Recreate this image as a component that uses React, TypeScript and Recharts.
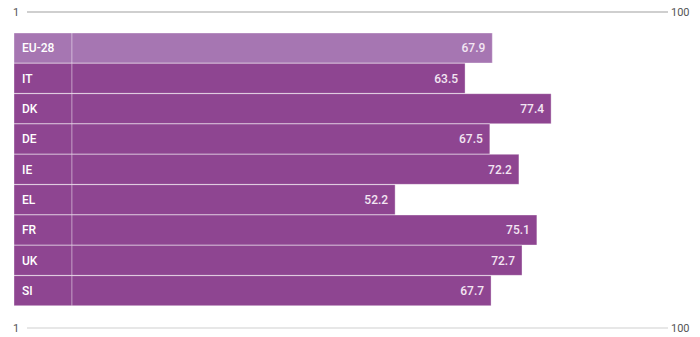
import React from "react";
import { BarChart, Bar, XAxis, YAxis, Cell, LabelList } from "recharts";

const categories = ["EU-28", "IT", "DK", "DE", "IE", "EL", "FR", "UK", "SI"];
const values = [67.9, 63.5, 77.4, 67.5, 72.2, 52.2, 75.1, 72.7, 67.7];
const highlighted = ["EU-28"];
const scaleTicks = ["1", "100"];

const LABEL_COL = 9.37; // width of the label column in value units

const data = categories.map((c, i) => ({
  code: c,
  labelCol: LABEL_COL,
  value: values[i],
}));

const BASE = "#8e4591";
const LIGHT = "#a676b2";
const STROKE = "rgba(255,255,255,0.35)";
const FONT = "Roboto, 'Noto Sans', sans-serif";

const ScaleRow = ({ y, thick }: { y: number; thick: boolean }) => (
  <g>
    <text x={13} y={y + 4} fontSize={11} fill="#555" fontFamily={FONT}>
      {scaleTicks[0]}
    </text>
    <line x1={27} x2={668} y1={y} y2={y} stroke="#cfcfcf" strokeWidth={thick ? 2 : 1} />
    <text x={671} y={y + 4} fontSize={11} fill="#555" fontFamily={FONT}>
      {scaleTicks[1]}
    </text>
  </g>
);

export default function App() {
  return (
    <div style={{ position: "absolute", left: 0, top: 0, width: 700, height: 337, background: "#fff" }}>
      <BarChart
        width={700}
        height={337}
        data={data}
        layout="vertical"
        margin={{ top: 33, bottom: 31, left: 14, right: 9 }}
        barCategoryGap={0}
      >
        <XAxis type="number" domain={[0, 100 + LABEL_COL]} hide />
        <YAxis type="category" dataKey="code" hide />
        <Bar dataKey="labelCol" stackId="s" isAnimationActive={false} stroke={STROKE} strokeWidth={1}>
          {data.map((d) => (
            <Cell key={d.code} fill={highlighted.includes(d.code) ? LIGHT : BASE} />
          ))}
          <LabelList
            dataKey="code"
            position="insideLeft"
            offset={8}
            fill="#fff"
            fontSize={12}
            fontWeight={500}
            fontFamily={FONT}
          />
        </Bar>
        <Bar dataKey="value" stackId="s" isAnimationActive={false} stroke={STROKE} strokeWidth={1}>
          {data.map((d) => (
            <Cell key={d.code} fill={highlighted.includes(d.code) ? LIGHT : BASE} />
          ))}
          <LabelList
            dataKey="value"
            position="insideRight"
            offset={7}
            fill="#f3e6f3"
            fontSize={12}
            fontWeight={500}
            fontFamily={FONT}
            formatter={(v: any) => Number(v).toFixed(1)}
          />
        </Bar>
        <ScaleRow y={12} thick={true} />
        <ScaleRow y={328} thick={false} />
      </BarChart>
    </div>
  );
}
